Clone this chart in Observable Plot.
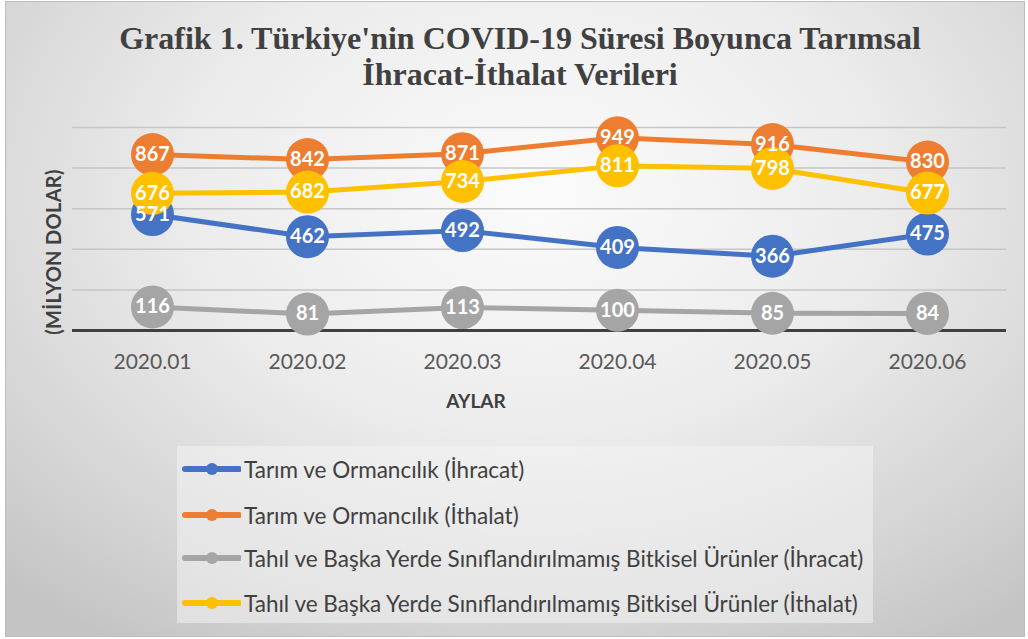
<!DOCTYPE html>
<html>
<head>
<meta charset="utf-8">
<script src="https://cdn.jsdelivr.net/npm/d3@7"></script>
<script src="https://cdn.jsdelivr.net/npm/@observablehq/plot@0.6"></script>
<style>
  html, body { margin: 0; padding: 0; background: #ffffff; }
  #wrap { position: relative; width: 1028px; height: 639px; overflow: hidden; font-family: Lato, Carlito, Calibri, sans-serif; }
  #bg { position: absolute; left: 5px; top: 1px; width: 1018px; height: 634px; border: 1px solid #bdbdbd;
        background: radial-gradient(ellipse 75% 85% at 52% 30%, #fbfbfb 0%, #ececec 45%, #d4d4d4 80%, #c4c4c4 100%); }
  #title { position: absolute; left: 0; top: 20px; width: 1040px; text-align: center; font-family: "Liberation Serif", "Times New Roman", serif;
           font-weight: bold; font-size: 32px; line-height: 36px; color: #404040; }
  #ylab { position: absolute; left: 53px; top: 252px; transform: translate(-50%, -50%) rotate(-90deg); white-space: nowrap;
          font-weight: bold; font-size: 20px; color: #404040; letter-spacing: 0.3px; }
  #xlab { position: absolute; left: 476px; top: 400px; transform: translate(-50%, -50%); font-weight: bold; font-size: 19px; color: #404040; }
  #plot { position: absolute; left: 0; top: 0; }
  #legend { position: absolute; left: 177px; top: 446px; width: 696px; height: 177px; background: rgba(245,245,245,0.5); }
  .item { position: absolute; left: 0; height: 30px; display: flex; align-items: center; font-size: 22.5px; color: #404040; white-space: nowrap; }
  .item svg { margin-left: 4px; margin-right: 3px; }
</style>
</head>
<body>
<div id="wrap">
  <div id="bg"></div>
  <div id="title"></div>
  <div id="plot"></div>
  <div id="ylab"></div>
  <div id="xlab"></div>
  <div id="legend"></div>
</div>
<script>
const titleLines = ["Grafik 1. Türkiye'nin COVID-19 Süresi Boyunca Tarımsal", "İhracat-İthalat Verileri"];
const yAxisLabel = "(MİLYON DOLAR)";
const xAxisLabel = "AYLAR";
const months = ["2020.01", "2020.02", "2020.03", "2020.04", "2020.05", "2020.06"];
const seriesNames = [
  "Tarım ve Ormancılık (İhracat)",
  "Tarım ve Ormancılık (İthalat)",
  "Tahıl ve Başka Yerde Sınıflandırılmamış Bitkisel Ürünler (İhracat)",
  "Tahıl ve Başka Yerde Sınıflandırılmamış Bitkisel Ürünler (İthalat)"
];
const tarimIhracat = [571, 462, 492, 409, 366, 475];
const tarimIthalat = [867, 842, 871, 949, 916, 830];
const tahilIhracat = [116, 81, 113, 100, 85, 84];
const tahilIthalat = [676, 682, 734, 811, 798, 677];
const seriesColors = ["#4472C4", "#ED7D31", "#A5A5A5", "#FFC000"];
const gridTicks = [200, 400, 600, 800, 1000];

const seriesValues = [tarimIhracat, tarimIthalat, tahilIhracat, tahilIthalat];
const rows = [];
seriesValues.forEach((vals, si) => vals.forEach((v, i) => rows.push({series: seriesNames[si], month: months[i], value: v, si})));

document.getElementById("title").innerHTML = titleLines.join("<br>");
document.getElementById("ylab").textContent = yAxisLabel;
document.getElementById("xlab").textContent = xAxisLabel;

const seriesMarks = [];
seriesNames.forEach((name, si) => {
  const data = rows.filter(r => r.si === si);
  seriesMarks.push(Plot.line(data, {x: "month", y: "value", stroke: seriesColors[si], strokeWidth: 5, strokeLinecap: "round", strokeLinejoin: "round"}));
  seriesMarks.push(Plot.dot(data, {x: "month", y: "value", r: 21.5, fill: seriesColors[si], stroke: "none"}));
});

const chart = Plot.plot({
  width: 1028,
  height: 420,
  marginTop: 127,
  marginBottom: 90,
  marginLeft: 72,
  marginRight: 22,
  style: {background: "transparent", overflow: "visible", fontFamily: "Lato, Carlito, Calibri, sans-serif"},
  x: {type: "point", domain: months, padding: 0.5},
  y: {domain: [0, 1000], axis: null},
  marks: [
    Plot.ruleY(gridTicks, {stroke: "#c6c6c6", strokeWidth: 1.5}),
    Plot.ruleY([0], {stroke: "#404040", strokeWidth: 3}),
    Plot.axisX({tickSize: 0, tickPadding: 24, fontSize: 21, fill: "#595959", label: null}),
    ...seriesMarks,
    Plot.text(rows, {x: "month", y: "value", text: d => String(d.value), fill: "white", fontWeight: "bold", fontSize: 20})
  ]
});
document.getElementById("plot").appendChild(chart);

const legend = document.getElementById("legend");
const rowTops = [8, 54, 97, 142];
seriesNames.forEach((name, si) => {
  const item = document.createElement("div");
  item.className = "item";
  item.style.top = rowTops[si] + "px";
  item.innerHTML = `<svg width="60" height="14"><line x1="4" y1="7" x2="58" y2="7" stroke="${seriesColors[si]}" stroke-width="6" stroke-linecap="round"/><circle cx="31" cy="7" r="6" fill="${seriesColors[si]}"/></svg><span></span>`;
  item.querySelector("span").textContent = name;
  legend.appendChild(item);
});
</script>
</body>
</html>
